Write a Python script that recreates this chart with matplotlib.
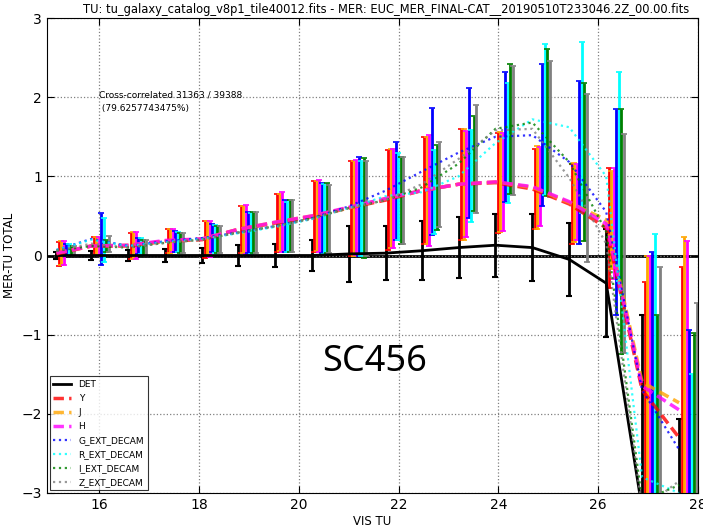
import numpy as np
import matplotlib
matplotlib.use("Agg")
import matplotlib.pyplot as plt

# bin centres (VIS TU magnitude)
bins = np.array([15.14, 15.84, 16.58, 17.32, 18.06, 18.78, 19.52, 20.26, 21.0,
                 21.74, 22.46, 23.2, 23.94, 24.68, 25.42, 26.16, 26.88, 27.62])

det_mean = [0.0, 0.0, 0.0, 0.0, 0.0, 0.0, 0.0, 0.0, 0.02, 0.03, 0.06, 0.1, 0.13, 0.1, -0.05, -0.35, -3.2, -4.5]
det_err = [0.05, 0.06, 0.07, 0.08, 0.1, 0.13, 0.14, 0.19, 0.35, 0.34, 0.37, 0.39, 0.4, 0.42, 0.46, 0.68, 2.45, 2.43]

y_mean = [0.02, 0.12, 0.12, 0.18, 0.2, 0.33, 0.41, 0.49, 0.6, 0.7, 0.82, 0.9, 0.92, 0.84, 0.65, 0.35, -1.7, -2.3]
y_err = [0.15, 0.11, 0.17, 0.15, 0.23, 0.3, 0.37, 0.45, 0.6, 0.63, 0.68, 0.7, 0.63, 0.5, 0.5, 0.76, 1.36, 2.15]

j_mean = [0.03, 0.12, 0.13, 0.18, 0.21, 0.33, 0.42, 0.5, 0.6, 0.72, 0.82, 0.9, 0.93, 0.86, 0.67, 0.45, -1.6, -1.86]
j_err = [0.15, 0.11, 0.17, 0.15, 0.22, 0.3, 0.36, 0.44, 0.6, 0.62, 0.68, 0.7, 0.63, 0.52, 0.5, 0.62, 1.59, 2.1]

h_mean = [0.03, 0.12, 0.13, 0.19, 0.21, 0.33, 0.42, 0.5, 0.61, 0.72, 0.82, 0.9, 0.93, 0.87, 0.68, 0.4, -1.65, -1.95]
h_err = [0.15, 0.12, 0.17, 0.14, 0.23, 0.31, 0.38, 0.45, 0.6, 0.62, 0.7, 0.67, 0.62, 0.5, 0.48, 0.7, 1.64, 2.13]

g_mean = [0.07, 0.21, 0.12, 0.18, 0.22, 0.29, 0.37, 0.47, 0.62, 0.82, 1.06, 1.3, 1.5, 1.52, 1.18, 0.55, -1.7, -2.45]
g_err = [0.07, 0.33, 0.1, 0.13, 0.18, 0.26, 0.33, 0.44, 0.62, 0.62, 0.8, 0.82, 0.82, 0.9, 1.03, 1.3, 1.75, 1.51]

r_mean = [0.07, 0.2, 0.12, 0.17, 0.21, 0.28, 0.36, 0.46, 0.6, 0.75, 0.8, 1.0, 1.42, 1.72, 1.62, 1.0, -2.8, -3.0]
r_err = [0.07, 0.28, 0.1, 0.13, 0.18, 0.26, 0.32, 0.44, 0.6, 0.55, 0.53, 0.58, 0.76, 0.95, 1.08, 1.32, 3.07, 1.5]

i_mean = [0.06, 0.12, 0.1, 0.16, 0.2, 0.29, 0.37, 0.47, 0.6, 0.7, 0.86, 1.16, 1.6, 1.68, 1.18, 0.3, -3.1, -2.9]
i_err = [0.06, 0.08, 0.1, 0.13, 0.17, 0.26, 0.33, 0.44, 0.63, 0.55, 0.54, 0.6, 0.82, 0.93, 1.0, 1.55, 2.35, 1.92]

z_mean = [0.06, 0.15, 0.1, 0.16, 0.2, 0.29, 0.37, 0.46, 0.6, 0.7, 0.9, 1.22, 1.58, 1.6, 0.98, 0.15, -3.2, -2.85]
z_err = [0.06, 0.1, 0.1, 0.13, 0.17, 0.26, 0.33, 0.43, 0.6, 0.55, 0.54, 0.68, 0.82, 0.86, 1.06, 1.38, 3.05, 2.25]

names = ["DET", "Y", "J", "H", "G_EXT_DECAM", "R_EXT_DECAM", "I_EXT_DECAM", "Z_EXT_DECAM"]
means = [det_mean, y_mean, j_mean, h_mean, g_mean, r_mean, i_mean, z_mean]
errs = [det_err, y_err, j_err, h_err, g_err, r_err, i_err, z_err]
colors = ["black", "red", "orange", "magenta", "blue", "cyan", "green", "gray"]
styles = ["-", "--", "--", "--", ":", ":", ":", ":"]

fig = plt.figure(figsize=(7.03, 5.30), dpi=100)
ax = fig.add_axes([47 / 703, 37 / 530, 651 / 703, 475 / 530])

ax.axhline(0, color="black", lw=2, zorder=1)

for k in range(len(names)):
    m = np.array(means[k])
    e = np.array(errs[k])
    off = 0.05 * k
    if k == 0:
        ax.plot(bins, m, "-", color="black", lw=2, label=names[k], zorder=3)
        ax.errorbar(bins + off, m, yerr=e, fmt="none", ecolor="black",
                    elinewidth=2, capsize=2.5, capthick=1.5, zorder=2)
    elif styles[k] == "--":
        ax.plot(bins, m, "--", color=colors[k], lw=2.5, alpha=0.8,
                dashes=(3, 1.5), label=names[k], zorder=3)
        ax.errorbar(bins + off, m, yerr=e, fmt="none", ecolor=colors[k],
                    elinewidth=2, capsize=2, capthick=1.2, zorder=2)
    else:
        ax.plot(bins, m, ":", color=colors[k], lw=1.6, alpha=0.8,
                label=names[k], zorder=3)
        ax.errorbar(bins + off, m, yerr=e, fmt="none", ecolor=colors[k],
                    elinewidth=2, capsize=2, capthick=1.2, zorder=2)

ax.set_xlim(14.95, 27.97)
ax.set_ylim(-3, 3)
ax.set_xticks([16, 18, 20, 22, 24, 26, 28])
ax.set_yticks([-3, -2, -1, 0, 1, 2, 3])
ax.tick_params(direction="in", top=True, right=True, labelsize=10, length=5)
ax.grid(True, linestyle=":", color="gray", lw=0.9)
ax.set_xlabel("VIS TU", fontsize=8.5, labelpad=2)
ax.set_ylabel("MER-TU TOTAL", fontsize=8.5, labelpad=4)
fig.text(386 / 703, 1 - 10 / 530,
         "TU: tu_galaxy_catalog_v8p1_tile40012.fits - MER: EUC_MER_FINAL-CAT__20190510T233046.2Z_00.00.fits",
         fontsize=8.3, ha="center", va="center")

ax.text(16.0, 2.08, "Cross-correlated 31363 / 39388\n (79.6257743475%)",
        fontsize=6.5, va="top", ha="left", linespacing=1.6)

leg = ax.legend(loc="lower left", fontsize=6.5, handlelength=2.0,
                frameon=True, fancybox=False, edgecolor="black",
                borderaxespad=0.3, labelspacing=0.55)
leg.get_frame().set_linewidth(0.8)

fig.text(375 / 703, 1 - 362 / 530, "SC456", fontsize=26, family="Noto Sans",
         ha="center", va="center")

fig.savefig("out.png", dpi=100)
